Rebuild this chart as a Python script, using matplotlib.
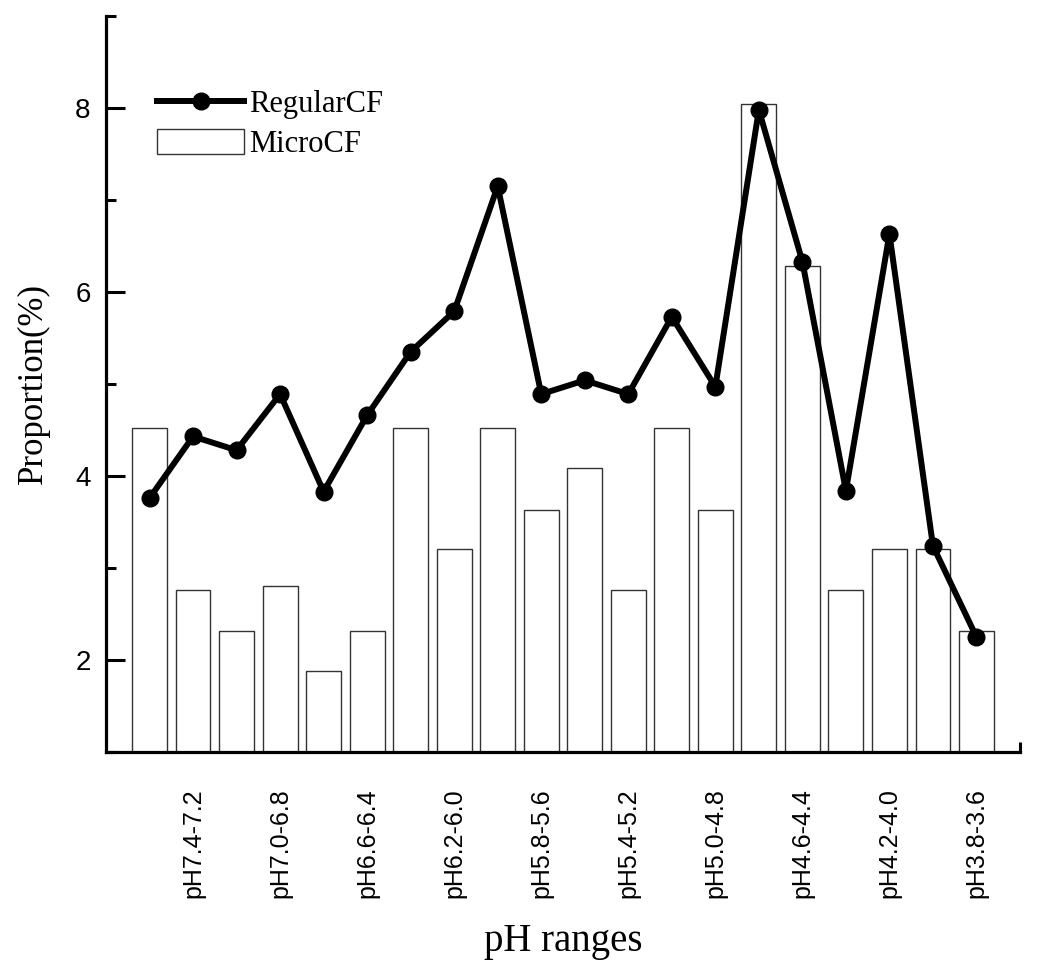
import matplotlib
matplotlib.use("Agg")
import matplotlib.pyplot as plt
from matplotlib.patches import Patch
from matplotlib.lines import Line2D

categories = ["pH7.6-7.4", "pH7.4-7.2", "pH7.2-7.0", "pH7.0-6.8", "pH6.8-6.6",
              "pH6.6-6.4", "pH6.4-6.2", "pH6.2-6.0", "pH6.0-5.8", "pH5.8-5.6",
              "pH5.6-5.4", "pH5.4-5.2", "pH5.2-5.0", "pH5.0-4.8", "pH4.8-4.6",
              "pH4.6-4.4", "pH4.4-4.2", "pH4.2-4.0", "pH4.0-3.8", "pH3.8-3.6"]
micro_cf = [4.52, 2.76, 2.32, 2.80, 1.88, 2.32, 4.52, 3.21, 4.52, 3.63,
            4.09, 2.76, 4.52, 3.63, 8.04, 6.28, 2.76, 3.21, 3.21, 2.32]
regular_cf = [3.76, 4.43, 4.28, 4.89, 3.83, 4.66, 5.35, 5.79, 7.15, 4.89,
              5.04, 4.89, 5.73, 4.97, 7.98, 6.33, 3.84, 6.63, 3.24, 2.25]
y_ticks = [2, 4, 6, 8]

serif = "Liberation Serif"
sans = "Liberation Sans"

fig = plt.figure(figsize=(10.5, 9.71), dpi=100)
ax = fig.add_axes([106/1050, 1 - 752/971, (1020-106)/1050, (752-16)/971])

x = list(range(len(categories)))
ax.bar(x, [v - 1 for v in micro_cf], bottom=1, width=0.8, facecolor="white",
       edgecolor="#333333", linewidth=1.0, zorder=2)
ax.plot(x, regular_cf, color="black", linewidth=4.3, marker="o",
        markersize=12, zorder=3)

ax.set_xlim(-1, 20)
ax.set_ylim(1, 9)

ax.set_xticks(x[1::2])
ax.set_xticklabels(categories[1::2], rotation=90, fontfamily=sans, fontsize=18)
ax.set_xticks(list(range(0, 21, 2)), minor=True)
ax.set_yticks(y_ticks)
ax.set_yticklabels([str(t) for t in y_ticks], fontfamily=sans, fontsize=20)
ax.set_yticks([1, 3, 5, 7, 9], minor=True)

ax.tick_params(axis="both", which="major", direction="in", length=14, width=2.2)
ax.tick_params(axis="both", which="minor", direction="in", length=7, width=2.2)
ax.tick_params(axis="x", which="major", pad=26)
ax.tick_params(axis="y", which="major", pad=11)

for s in ["top", "right"]:
    ax.spines[s].set_visible(False)
for s in ["left", "bottom"]:
    ax.spines[s].set_linewidth(2.3)

ax.set_ylabel("Proportion(%)", fontfamily=serif, fontsize=25, labelpad=18)
ax.set_xlabel("pH ranges", fontfamily=serif, fontsize=28, labelpad=18)

handles = [Line2D([], [], color="black", linewidth=4.3, marker="o", markersize=12),
           Patch(facecolor="white", edgecolor="#333333", linewidth=1.0)]
leg = fig.legend(handles, ["RegularCF", "MicroCF"], loc="upper left",
                 bbox_to_anchor=(157/1050, 1 - 89/971),
                 frameon=False, prop={"family": serif, "size": 22},
                 handlelength=2.85, handleheight=0.92, handletextpad=0.15,
                 borderpad=0, borderaxespad=0, labelspacing=0.3)

fig.savefig("out.png", dpi=100)
